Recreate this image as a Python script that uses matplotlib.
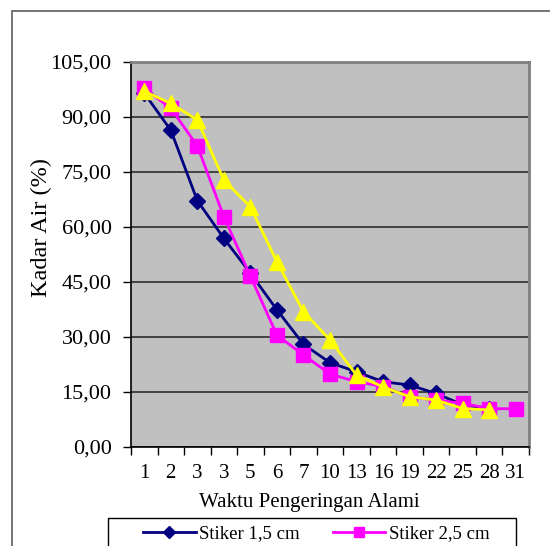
import numpy as np
import matplotlib.pyplot as plt
from matplotlib.patches import Rectangle
from matplotlib.ticker import FixedLocator, FuncFormatter

plt.rcParams['font.family'] = ['Liberation Serif', 'DejaVu Serif']

# hari pengeringan (label kategori sumbu x)
hari = ['1', '2', '3', '3', '5', '6', '7', '10', '13', '16', '19', '22', '25', '28', '31']

# kadar air (%) per ukuran stiker
stiker_15 = [96.5, 86.4, 67.2, 56.9, 47.4, 37.4, 28.0, 23.0, 20.5, 17.8, 16.9, 14.6, 11.5, 10.5, np.nan]
stiker_25 = [97.8, 92.4, 82.1, 62.8, 46.6, 30.5, 25.1, 19.9, 17.8, 16.5, 13.7, 12.8, 11.9, 10.5, 10.4]
stiker_35 = [97.0, 93.7, 89.2, 72.8, 65.5, 50.5, 36.9, 29.2, 19.6, 16.4, 13.7, 12.8, 10.5, 10.1, np.nan]

W, H = 550, 546
fig = plt.figure(figsize=(W / 100, H / 100), dpi=100)
ax = fig.add_axes([131 / W, 1 - 447 / H, 398 / W, 385 / H])
ax.set_facecolor('#C0C0C0')

# bingkai luar area grafik
fig.patches.append(Rectangle((12 / W, -0.1), 1.2, 1 - 11 / H + 0.1,
                             transform=fig.transFigure, fill=False,
                             edgecolor='#6a6a6a', linewidth=1.3))

x = np.arange(len(hari))
l1, = ax.plot(x, stiker_15, color='#000080', lw=2, marker='D', ms=8.5,
              markerfacecolor='#000080', markeredgecolor='#000080', label='Stiker 1,5 cm', zorder=3)
l2, = ax.plot(x, stiker_25, color='#FF00FF', lw=2, marker='s', ms=10.5,
              markerfacecolor='#FF00FF', markeredgecolor='#FF00FF', label='Stiker 2,5 cm', zorder=4)
l3, = ax.plot(x, stiker_35, color='#FFFF00', lw=2, marker='^', ms=12,
              markerfacecolor='#FFFF00', markeredgecolor='#FFFF00', label='Stiker 3,5 cm', zorder=5)

ax.set_ylim(0, 105)
ax.set_yticks(np.arange(0, 106, 15))
ax.yaxis.set_major_formatter(FuncFormatter(lambda v, p: f'{v:.2f}'.replace('.', ',')))
ax.grid(axis='y', color='#202020', lw=1.1)
ax.set_axisbelow(True)

ax.set_xlim(-0.5, len(hari) - 0.5)
ax.xaxis.set_major_locator(FixedLocator(np.arange(-0.5, len(hari), 1)))
ax.xaxis.set_minor_locator(FixedLocator(x))
ax.set_xticklabels([])
ax.set_xticklabels(hari, minor=True)
ax.tick_params(axis='x', which='major', length=6, width=1, direction='out')
ax.tick_params(axis='x', which='minor', length=0, pad=12, labelsize=15)
ax.tick_params(axis='y', length=6, width=1, direction='out', pad=8, labelsize=16)

for s in ['left', 'bottom']:
    ax.spines[s].set_color('black')
    ax.spines[s].set_linewidth(1.2)
for s in ['top', 'right']:
    ax.spines[s].set_color('#808080')
    ax.spines[s].set_linewidth(2)

ax.set_xlabel('Waktu Pengeringan Alami', fontsize=15)
ax.xaxis.set_label_coords(0.447, -0.1195)
ax.set_ylabel('Kadar Air (%)', fontsize=17.5)
ax.yaxis.set_label_coords(-0.199, 0.571)

# kotak legenda terpotong tepi bawah, hanya baris pertama yang tampak
fig.patches.append(Rectangle((108 / W, -0.1), 408 / W, 1 - 518 / H + 0.1,
                             transform=fig.transFigure, fill=False,
                             edgecolor='black', linewidth=1))
fig.legend(handles=[l1, l2], loc='upper left',
           bbox_to_anchor=(143 / W, 1 - 525 / H),
           ncol=2, fontsize=13.5, frameon=False, borderpad=0,
           handlelength=2.8, columnspacing=1.75, handletextpad=0.2,
           markerscale=0.75, borderaxespad=0)

fig.savefig('out.png', dpi=100)
